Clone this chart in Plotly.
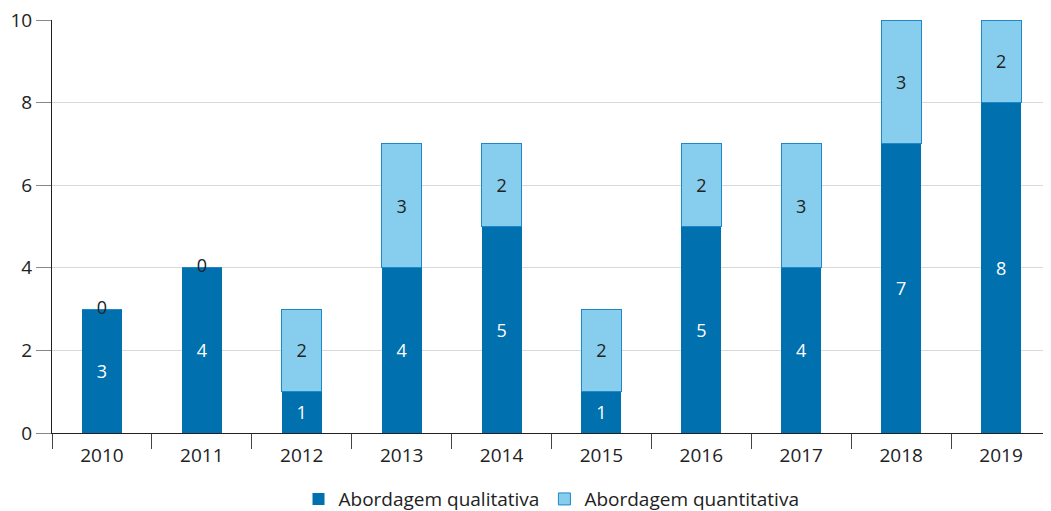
import plotly.graph_objects as go

years = ["2010", "2011", "2012", "2013", "2014", "2015", "2016", "2017", "2018", "2019"]
qualitativa = [3, 4, 1, 4, 5, 1, 5, 4, 7, 8]
quantitativa = [0, 0, 2, 3, 2, 2, 2, 3, 3, 2]

dark = "#0070AF"
light = "#87CEEE"
light_edge = "#1E88C8"
font = "Open Sans"
fs = 19
fsb = 18

fig = go.Figure()
fig.add_trace(go.Bar(
    x=years, y=qualitativa, name="Abordagem qualitativa",
    marker=dict(color=dark, line=dict(color=dark, width=0)),
    text=[str(v) for v in qualitativa], textposition="inside", insidetextanchor="middle",
    textfont=dict(color="white", size=fsb, family=font), width=0.4,
))
fig.add_trace(go.Bar(
    x=years, y=quantitativa, name="Abordagem quantitativa",
    marker=dict(color=light, line=dict(color=light_edge, width=1)),
    text=[str(v) if v > 0 else "" for v in quantitativa], textposition="inside", insidetextanchor="middle",
    textfont=dict(color="#222222", size=fsb, family=font), width=0.4,
))
# zero-value labels sitting on top of the stack
zx = [y for y, q in zip(years, quantitativa) if q == 0]
zy = [a + b for a, b, in zip(qualitativa, quantitativa) if b == 0]
fig.add_trace(go.Scatter(
    x=zx, y=zy, mode="text", text=["0"] * len(zx), textposition="middle center",
    textfont=dict(color="#222222", size=fsb, family=font), showlegend=False, hoverinfo="skip",
))

fig.update_layout(
    barmode="stack",
    width=1043, height=503,
    margin=dict(l=44, r=0, t=12, b=78, autoexpand=False),
    plot_bgcolor="white", paper_bgcolor="white",
    font=dict(family=font, size=fs, color="#222222"),
    legend=dict(orientation="h", x=0.5, xanchor="center", y=-0.114, yanchor="top",
                font=dict(size=fs), itemwidth=30, traceorder="normal"),
    xaxis=dict(type="category", showgrid=False, showline=True, linecolor="#222222", linewidth=1,
               ticks="outside", tickson="boundaries", ticklen=15, tickcolor="#444444",
               tickfont=dict(size=fs), automargin=False, ticklabelstandoff=5),
    yaxis=dict(range=[0, 10], dtick=2, showgrid=True, gridcolor="#D9D9D9", gridwidth=1,
               showline=True, linecolor="#222222", linewidth=1, zeroline=False,
               ticks="outside", ticklen=15, tickcolor="#888888", tickfont=dict(size=fs),
               automargin=False, ticklabeloverflow="allow"),
)
fig.write_html("out.html")
